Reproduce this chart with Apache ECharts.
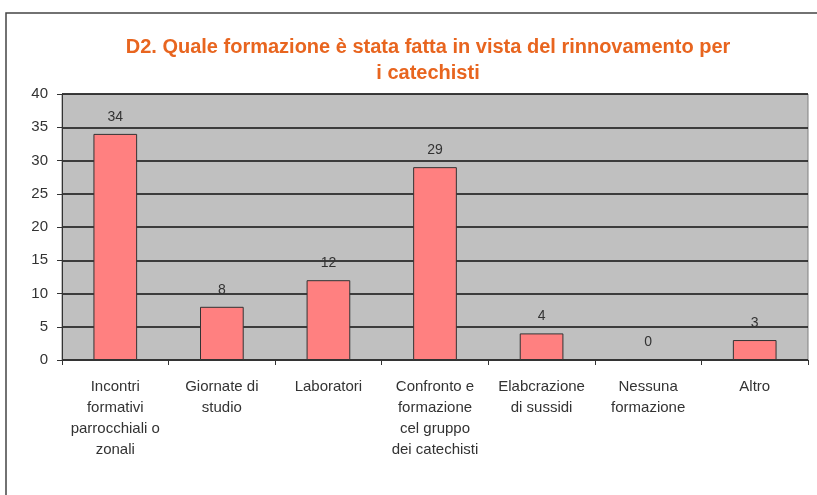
<!DOCTYPE html>
<html>
<head>
<meta charset="utf-8">
<script src="https://cdn.jsdelivr.net/npm/echarts@6/dist/echarts.min.js"></script>
<style>
  html, body { margin: 0; padding: 0; background: #fff; }
  #chart { width: 817px; height: 495px; }
</style>
</head>
<body>
<div id="chart"></div>
<script>
// dati
const categories = [
  'Incontri\nformativi\nparrocchiali o\nzonali',
  'Giornate di\nstudio',
  'Laboratori',
  'Confronto e\nformazione\ncel gruppo\ndei catechisti',
  'Elabcrazione\ndi sussidi',
  'Nessuna\nformazione',
  'Altro'
]
const values = [34, 8, 12, 29, 4, 0, 3]
const titleText = 'D2. Quale formazione è stata fatta in vista del rinnovamento per\ni catechisti'

const chart = echarts.init(document.getElementById('chart'))

const textFont = 'Liberation Sans'

chart.setOption({
  animation: false,
  backgroundColor: '#fff',
  graphic: [
    {
      type: 'rect',
      shape: { x: 6, y: 13, width: 830, height: 500 },
      style: { fill: 'none', stroke: '#444', lineWidth: 1.5 },
      silent: true,
    },
  ],
  title: {
    text: titleText,
    left: 423,
    top: 29,
    textAlign: 'center',
    textStyle: {
      color: '#e8651f',
      fontSize: 20,
      fontWeight: 'bold',
      fontFamily: textFont,
      lineHeight: 26,
      align: 'center',
    },
  },
  grid: {
    left: 62,
    right: 9,
    top: 94,
    bottom: 135,
    show: true,
    backgroundColor: '#c0c0c0',
    borderColor: '#808080',
    borderWidth: 1,
  },
  xAxis: {
    type: 'category',
    data: categories,
    axisLine: { show: true, lineStyle: { color: '#333', width: 1 } },
    axisTick: { show: true, length: 5, lineStyle: { color: '#333' } },
    axisLabel: {
      interval: 0,
      margin: 16,
      color: '#333',
      fontSize: 15,
      fontFamily: textFont,
      lineHeight: 21,
      align: 'center',
    },
    splitLine: { show: false },
  },
  yAxis: {
    type: 'value',
    min: 0,
    max: 40,
    interval: 5,
    axisLine: { show: true, lineStyle: { color: '#333' } },
    axisTick: { show: true, length: 5, lineStyle: { color: '#333' } },
    axisLabel: {
      color: '#333',
      fontSize: 15,
      fontFamily: textFont,
      margin: 14,
    },
    splitLine: { show: true, lineStyle: { color: '#111', width: 1.5 } },
  },
  series: [
    {
      type: 'bar',
      data: values,
      barWidth: '41%',
      itemStyle: {
        color: '#ff8080',
        borderColor: '#333',
        borderWidth: 1,
      },
      label: {
        show: true,
        position: 'top',
        distance: 10,
        color: '#333',
        fontSize: 14,
        fontFamily: textFont,
      },
    },
  ],
})
</script>
</body>
</html>
